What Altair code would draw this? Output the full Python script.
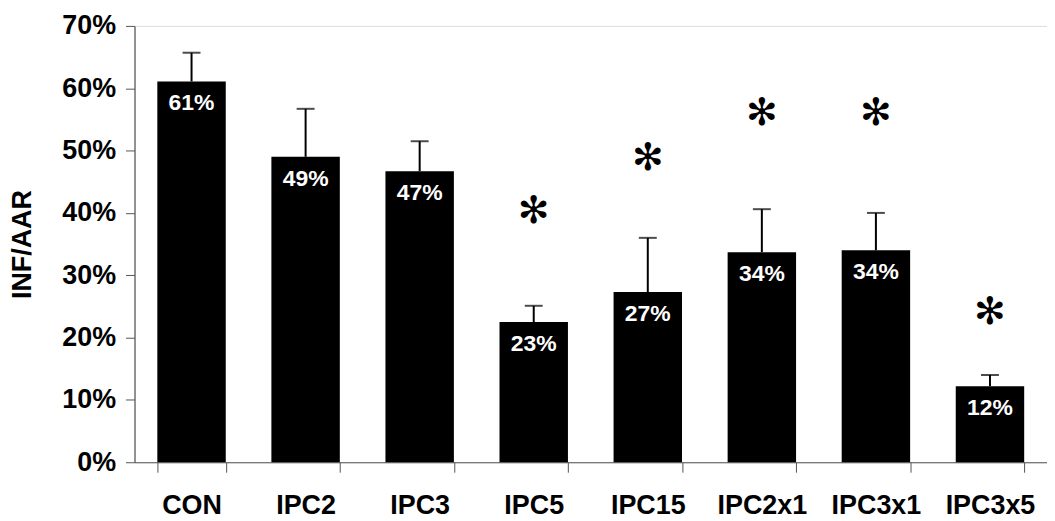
import altair as alt
import pandas as pd

categories = ["CON", "IPC2", "IPC3", "IPC5", "IPC15", "IPC2x1", "IPC3x1", "IPC3x5"]
means = [0.611, 0.49, 0.467, 0.225, 0.273, 0.337, 0.34, 0.122]
err_top = [0.657, 0.567, 0.515, 0.251, 0.36, 0.406, 0.40, 0.14]
labels = ["61%", "49%", "47%", "23%", "27%", "34%", "34%", "12%"]
star_cats = ["IPC5", "IPC15", "IPC2x1", "IPC3x1", "IPC3x5"]
star_pos = [0.401, 0.487, 0.559, 0.559, 0.24]

df = pd.DataFrame({"cat": categories, "mean": means, "err": err_top, "label": labels})
stars = pd.DataFrame({"cat": star_cats, "pos": star_pos, "s": ["✻"] * len(star_cats)})

FONT = "Liberation Sans"

x = alt.X("cat:N", sort=categories,
          scale=alt.Scale(paddingInner=0.4, paddingOuter=0.2),
          axis=alt.Axis(title=None, labelAngle=0, labelFont=FONT, labelFontSize=27,
                        labelFontWeight="bold", labelColor="black", labelPadding=33,
                        labelAlign="center",
                        tickBand="extent", tickSize=10, tickColor="#555",
                        domainColor="#555", domainWidth=1.2))
y = alt.Y("mean:Q", scale=alt.Scale(domain=[0, 0.7], nice=False),
          axis=alt.Axis(title="INF/AAR", format=".0%", values=[0, .1, .2, .3, .4, .5, .6, .7],
                        grid=False, labelFont=FONT, labelFontSize=27, labelFontWeight="bold",
                        labelColor="black", labelPadding=10, tickSize=9, tickColor="#555",
                        domainColor="#555", domainWidth=1.2,
                        titleFont=FONT, titleFontSize=27, titleFontWeight="bold",
                        titleColor="black", titlePadding=25))

base = alt.Chart(df)
err_rule = base.mark_rule(color="black", strokeWidth=2).encode(
    x=alt.X("cat:N", sort=categories), y="mean:Q", y2="err:Q")
err_cap = base.mark_tick(color="black", size=18, thickness=2, orient="horizontal").encode(
    x=alt.X("cat:N", sort=categories), y="err:Q")
bars = base.mark_bar(color="black").encode(x=x, y=y)
text = base.mark_text(color="white", font=FONT, fontSize=23, fontWeight="bold",
                      baseline="middle", dy=22).encode(
    x=alt.X("cat:N", sort=categories), y="mean:Q", text="label:N")
star = alt.Chart(stars).mark_text(color="black", font="DejaVu Sans", fontSize=38,
                                  baseline="middle").encode(
    x=alt.X("cat:N", sort=categories), y="pos:Q", text="s:N")

chart = alt.layer(err_rule, err_cap, bars, text, star).properties(
    width=916, height=438,
    padding={"left": 127, "top": 17, "right": 0, "bottom": 60},
    autosize=alt.AutoSizeParams(type="none"),
).configure_view(stroke=None).configure(background="white")

chart.save("out.html", embed_options={"renderer": "svg", "actions": False})
